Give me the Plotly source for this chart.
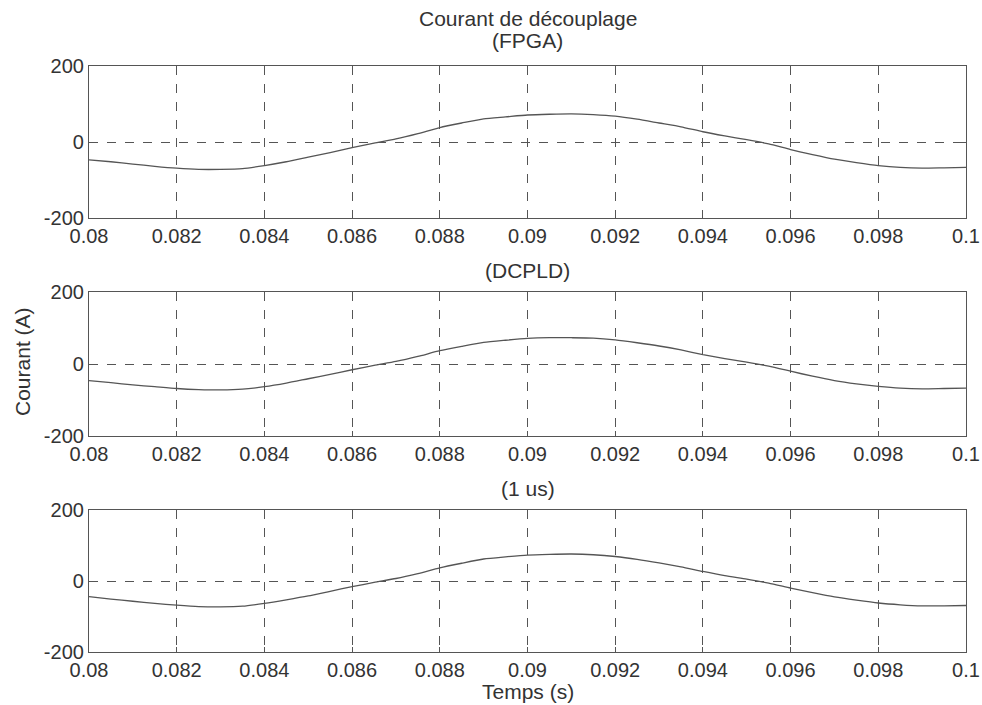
import plotly.graph_objects as go

t = [0.0800, 0.0805, 0.0810, 0.0815, 0.0820, 0.0825, 0.0830, 0.0835, 0.0840, 0.0845,
     0.0850, 0.0855, 0.0860, 0.0865, 0.0870, 0.0875, 0.0880, 0.0885, 0.0890, 0.0895,
     0.0900, 0.0905, 0.0910, 0.0915, 0.0920, 0.0925, 0.0930, 0.0935, 0.0940, 0.0945,
     0.0950, 0.0955, 0.0960, 0.0965, 0.0970, 0.0975, 0.0980, 0.0985, 0.0990, 0.0995, 0.1000]

i_fpga = [-47, -52, -58, -64, -69, -72, -72, -70, -62, -52,
          -40, -28, -15, -3, 8, 22, 38, 50, 61, 66,
          71, 73, 74, 72, 68, 60, 50, 40, 27, 16,
          6, -5, -20, -33, -45, -54, -62, -67, -69, -68, -67]

i_dcpld = [-46, -52, -58, -63, -68, -71, -72, -70, -63, -53,
           -41, -29, -16, -4, 7, 21, 37, 49, 60, 66,
           71, 73, 73, 72, 67, 59, 50, 39, 26, 15,
           5, -6, -20, -34, -46, -55, -62, -67, -69, -68, -67]

i_1us = [-44, -51, -57, -63, -68, -72, -73, -71, -63, -53,
         -42, -29, -16, -4, 7, 21, 37, 50, 62, 68,
         73, 75, 76, 74, 69, 61, 51, 40, 27, 15,
         5, -6, -20, -33, -45, -54, -62, -67, -70, -70, -69]

series = [i_fpga, i_dcpld, i_1us]
xticks = [0.08, 0.082, 0.084, 0.086, 0.088, 0.09, 0.092, 0.094, 0.096, 0.098, 0.1]
xticktext = ["0.08", "0.082", "0.084", "0.086", "0.088", "0.09", "0.092", "0.094", "0.096", "0.098", "0.1"]
yticks = [-200, 0, 200]
yticktext = ["-200", "0", "200"]

W, H = 982, 705
FONT = "Liberation Sans, Arial, sans-serif"
FS = 20
FS_T = 21
TXT = "#333333"

# pixel boxes of each panel (top, bottom)
panels = [(66, 218), (292, 436), (510, 652)]
xl, xr = 89, 966

fig = go.Figure()
for k, ys in enumerate(series):
    n = "" if k == 0 else str(k + 1)
    fig.add_trace(go.Scatter(x=t, y=ys, mode="lines", xaxis="x" + n, yaxis="y" + n,
                             line=dict(color="#555555", width=1.3, shape="spline", smoothing=0.6),
                             showlegend=False, hoverinfo="skip"))
    top, bot = panels[k]
    common = dict(showline=True, linecolor="#555555", linewidth=1.2, mirror="ticks",
                  ticks="inside", ticklen=5, tickcolor="#555555", automargin=False,
                  showgrid=True, gridcolor="#555555", griddash="dash", gridwidth=1,
                  zeroline=False, tickfont=dict(family=FONT, size=FS, color=TXT))
    fig.layout["xaxis" + n] = dict(domain=[xl / W, xr / W], range=[0.08, 0.1],
                                   tickvals=xticks, ticktext=xticktext,
                                   anchor="y" + n, **common)
    fig.layout["yaxis" + n] = dict(domain=[1 - bot / H, 1 - top / H], range=[-200, 200],
                                   tickvals=yticks, ticktext=yticktext,
                                   anchor="x" + n, **common)

cx = (xl + xr) / 2 / W
ann = [
    ("Courant de découplage", cx, 18, 0),
    ("(FPGA)", cx, 41, 0),
    ("(DCPLD)", cx, 270, 0),
    ("(1 us)", cx, 488, 0),
    ("Temps (s)", cx, 691, 0),
    ("Courant (A)", 22 / W, 362, -90),
]
for text, x, y, ang in ann:
    fig.add_annotation(text=text, x=x, y=1 - y / H, xref="paper", yref="paper",
                       showarrow=False, textangle=ang, xanchor="center", yanchor="middle",
                       font=dict(family=FONT, size=FS_T, color=TXT))

fig.update_layout(width=W, height=H, margin=dict(l=0, r=0, t=0, b=0, autoexpand=False),
                  paper_bgcolor="white", plot_bgcolor="white")

fig.write_html("out.html")
